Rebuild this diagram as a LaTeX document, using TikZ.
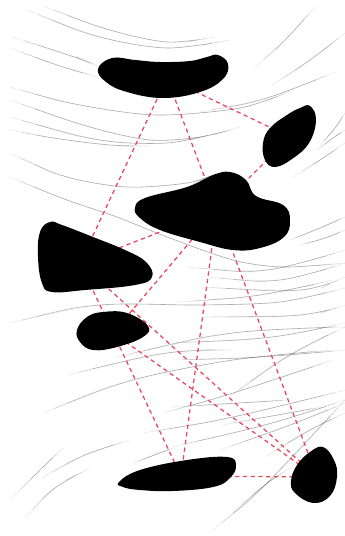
\documentclass[tikz,border=0pt]{standalone}
\definecolor{edgered}{RGB}{232,72,92}
\tikzset{
  bgline/.style={draw=black, line width=0.45pt, opacity=0.09,
    postaction={draw=black, opacity=0.12, shorten <=9pt, shorten >=9pt},
    postaction={draw=black, opacity=0.16, shorten <=20pt, shorten >=20pt}},
  bgshort/.style={draw=black, line width=0.45pt, opacity=0.1,
    postaction={draw=black, opacity=0.14, shorten <=4pt, shorten >=4pt},
    postaction={draw=black, opacity=0.14, shorten <=8pt, shorten >=8pt}},
  blob/.style={fill=black, draw=none},
  link/.style={draw=edgered, line width=0.95pt, dash pattern=on 3.2pt off 2.6pt}
}
\newcommand{\bgc}[1]{\draw[bgline] plot[smooth] coordinates {#1};}
\newcommand{\bgs}[1]{\draw[bgshort] plot[smooth] coordinates {#1};}
\begin{document}
\begin{tikzpicture}[x=0.75pt,y=-0.75pt]
\useasboundingbox (0,0) rectangle (345,536);
% background arcs
\bgc{(27,10) (100,37) (167,48) (230,40)}
\bgc{(43,6) (110,30) (167,42) (215,37)}
\bgc{(13,37) (77,58) (100,67)}
\bgc{(10,48) (60,66) (98,77)}
\bgc{(10,87) (80,105) (157,115) (240,108) (293,90)}
\bgc{(10,100) (90,127) (150,140) (200,137) (240,127)}
\bgc{(10,117) (100,140) (167,143) (217,133)}
\bgc{(10,130) (60,139) (110,145) (150,146)}
\bgc{(255,67) (285,40) (315,7)}
\bgc{(272,85) (310,60) (345,33)}
\bgc{(200,112) (267,98) (335,72)}
\bgs{(320,145) (335,128) (345,113)}
\bgc{(293,177) (320,160) (345,143)}
\bgs{(317,150) (333,138) (345,130)}
\bgc{(10,153) (67,177) (127,187) (187,183) (217,173)}
\bgc{(10,177) (67,200) (117,217) (167,237) (233,260) (283,267) (345,263)}
\bgs{(290,240) (320,228) (345,217)}
\bgs{(300,245) (325,238) (345,230)}
\bgc{(187,267) (267,270) (345,250)}
\bgc{(207,277) (280,280) (345,263)}
\bgc{(200,287) (300,290) (345,277)}
\bgc{(177,302) (260,295) (333,280)}
\bgc{(10,323) (100,305) (200,305) (280,302) (345,288)}
\bgc{(200,317) (300,315) (345,305)}
\bgc{(117,357) (233,333) (345,327)}
\bgc{(172,343) (272,337) (345,323)}
\bgc{(172,360) (260,357) (345,350)}
\bgc{(229,397) (290,355) (345,327)}
\bgc{(43,413) (133,380) (233,360) (333,350)}
\bgc{(67,375) (167,353) (233,350)}
\bgc{(163,413) (233,393) (333,360)}
\bgc{(143,433) (233,417) (345,390)}
\bgc{(220,450) (290,425) (345,403)}
\bgc{(213,530) (267,483) (345,400)}
\bgc{(232,513) (265,485) (290,468)}
\bgc{(12,498) (40,470) (63,448)}
\bgc{(42,478) (85,455) (130,440)}
\bgc{(25,518) (55,488) (90,468)}
\bgs{(133,463) (173,448)}
\bgc{(265,457) (310,430) (345,413)}
\bgc{(172,447) (272,423) (345,400)}
\bgc{(172,407) (289,400)}
\bgc{(222,425) (322,407)}
% node centres
\coordinate (A) at (167,78);
\coordinate (B) at (290,137);
\coordinate (C) at (217,210);
\coordinate (D) at (80,263);
\coordinate (E) at (113,333);
\coordinate (F) at (181,476);
\coordinate (G) at (317,477);
% connectors
\draw[link] (A) -- (B);
\draw[link] (A) -- (C);
\draw[link] (A) -- (D);
\draw[link] (B) -- (C);
\draw[link] (C) -- (D);
\draw[link] (C) -- (E);
\draw[link] (C) -- (F);
\draw[link] (C) -- (G);
\draw[link] (D) -- (F);
\draw[link] (D) -- (G);
\draw[link] (E) -- (G);
\draw[link] (F) -- (G);
% blobs
\fill[blob] plot[smooth cycle, tension=0.7] coordinates {(98,69) (112,58) (135,60) (160,62) (190,61) (207,57) (218,55) (228,64) (223,79) (200,92) (163,98) (127,92) (106,82)};
\fill[blob] plot[smooth cycle, tension=0.7] coordinates {(310,106) (316,120) (309,143) (292,159) (275,167) (265,160) (263,143) (270,128) (287,115) (300,108)};
\fill[blob] plot[smooth cycle, tension=0.7] coordinates {(135,208) (145,198) (187,187) (213,175) (230,172) (246,180) (256,196) (283,205) (290,220) (284,237) (260,248) (233,250) (200,242) (160,230) (140,218)};
\fill[blob] plot[smooth cycle, tension=0.7] coordinates {(50,222) (40,232) (38,257) (42,283) (52,292) (85,290) (135,285) (152,277) (146,262) (125,250) (93,237) (62,225)};
\fill[blob] plot[smooth cycle, tension=0.7] coordinates {(77,330) (87,317) (103,312) (127,313) (148,326) (143,337) (117,347) (93,350) (80,342)};
\fill[blob] plot[smooth cycle, tension=0.7] coordinates {(119,482) (140,470) (187,460) (227,457) (236,465) (230,478) (213,487) (173,491) (140,490) (123,487)};
\fill[blob] plot[smooth cycle, tension=0.7] coordinates {(323,447) (334,460) (337,477) (330,496) (313,503) (295,493) (291,481) (297,465) (310,452)};
\end{tikzpicture}
\end{document}
